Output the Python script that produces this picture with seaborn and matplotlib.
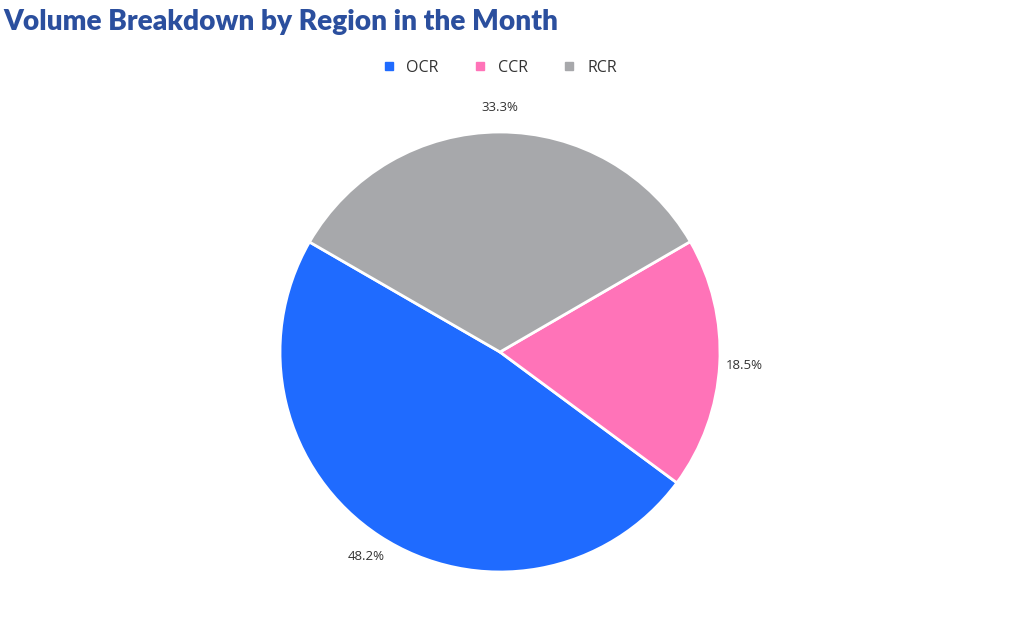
import numpy as np
import pandas as pd
import matplotlib
matplotlib.use("Agg")
import matplotlib.pyplot as plt
import seaborn as sns
from matplotlib.lines import Line2D

regions = ["OCR", "CCR", "RCR"]
share = [48.2, 18.5, 33.3]
colors = ["#1F6BFF", "#FF73B8", "#A7A8AB"]

sns.set_theme(style="white")
plt.rcParams['font.family'] = ['Open Sans', 'DejaVu Sans']

df = pd.DataFrame({"Region": regions, "Share": share})

fig = plt.figure(figsize=(10.14, 6.43), dpi=100)
# square axes, pie centre ~ (500, 352) px, radius ~ 220 px
ax = fig.add_axes([280 / 1014, 71 / 643, 440 / 1014, 440 / 643])

wedges, texts, autotexts = ax.pie(
    df["Share"], colors=colors, startangle=150, counterclock=True,
    autopct="%.1f%%", pctdistance=1.11,
    wedgeprops=dict(edgecolor="white", linewidth=2),
    textprops=dict(fontsize=9.5, color="#333333"))
ax.set_xlim(-1, 1)
ax.set_ylim(-1, 1)
ax.set_aspect("equal")

fig.text(3 / 1014, 1 - 22 / 643, "Volume Breakdown by Region in the Month",
         fontsize=20.2, fontweight="heavy", color="#2B4F9E", family="Lato",
         va="center", ha="left")

handles = [Line2D([0], [0], marker="s", linestyle="", markersize=6,
                  markerfacecolor=c, markeredgecolor=c) for c in colors]
fig.legend(handles, regions, loc="center", bbox_to_anchor=(498 / 1014, 1 - 68 / 643),
           ncol=3, frameon=False, fontsize=11.5, handletextpad=0.5,
           handlelength=1.2, columnspacing=2.0, labelcolor="#333333")

fig.savefig("out.png", dpi=100)
